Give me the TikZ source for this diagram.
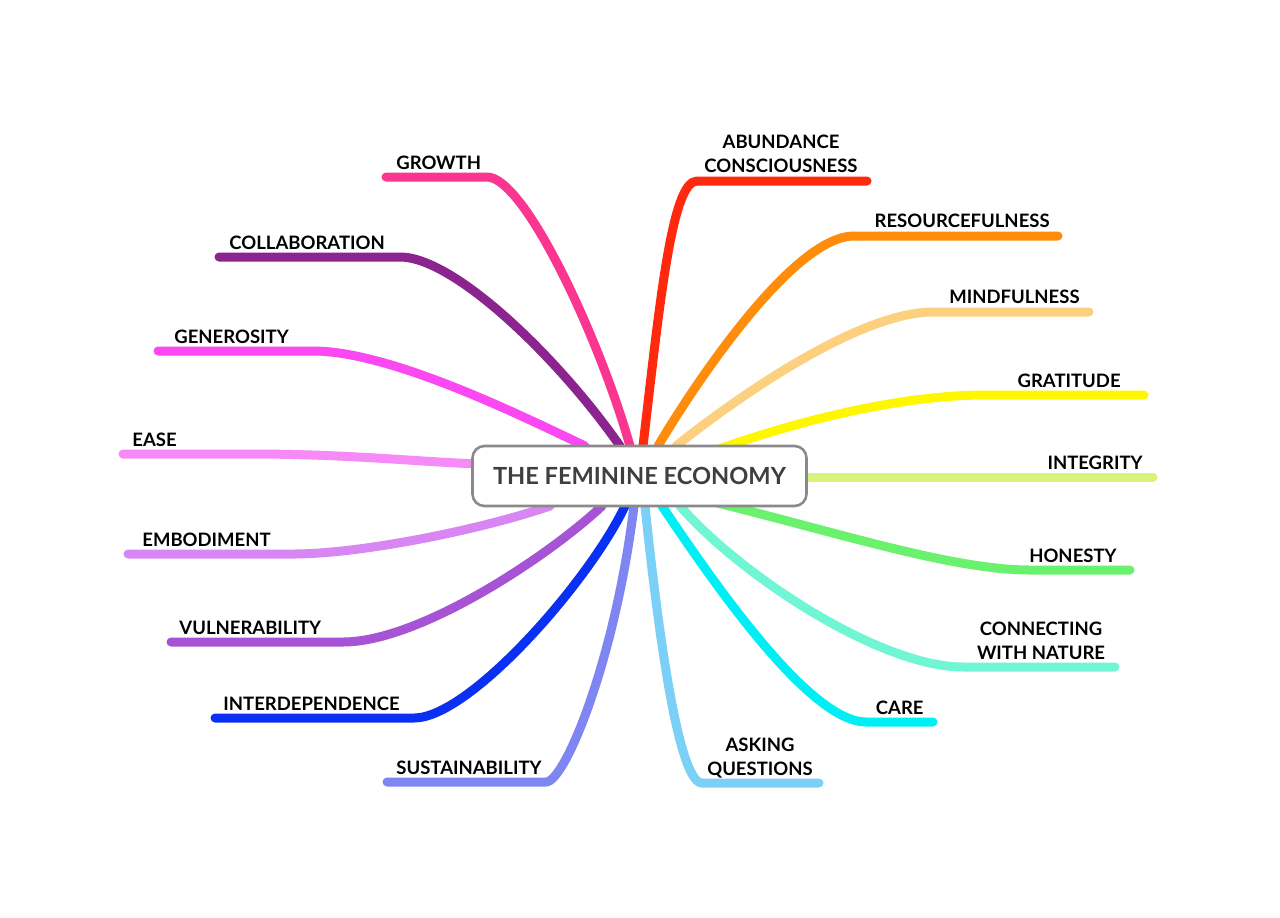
\documentclass[tikz,border=0pt]{standalone}
\usepackage{fontspec}
\setmainfont{Lato}
\definecolor{cGrowth}{HTML}{FB3690}
\definecolor{cCollab}{HTML}{8C2490}
\definecolor{cGener}{HTML}{FA48F2}
\definecolor{cEase}{HTML}{F68AF6}
\definecolor{cEmbod}{HTML}{D986F5}
\definecolor{cVuln}{HTML}{A653D6}
\definecolor{cInter}{HTML}{0A30F2}
\definecolor{cSust}{HTML}{7F86F2}
\definecolor{cAsk}{HTML}{7AD0F7}
\definecolor{cCare}{HTML}{00EFF5}
\definecolor{cConn}{HTML}{70F5D5}
\definecolor{cHon}{HTML}{6AF26E}
\definecolor{cInteg}{HTML}{D6F57A}
\definecolor{cGrat}{HTML}{FFF700}
\definecolor{cMind}{HTML}{FCD07F}
\definecolor{cRes}{HTML}{FF8C0A}
\definecolor{cAbund}{HTML}{FF2A0D}
\definecolor{boxgray}{HTML}{8A8A8A}
\definecolor{txtgray}{HTML}{3F3F3F}
\begin{document}
\begin{tikzpicture}[x=0.5pt,y=-0.5pt,
  branch/.style={line width=4.5pt,line cap=round,line join=round},
  lbl/.style={inner sep=0pt,font=\fontsize{9.25}{12}\selectfont\bfseries,text=black},
  centerbox/.style={draw=boxgray,line width=1.3pt,fill=white,rounded corners=6pt,
    minimum width=167pt,minimum height=30pt,inner sep=0pt,
    font=\fontsize{11.8}{14}\selectfont\bfseries,text=txtgray}]
\useasboundingbox[fill=white] (0,0) rectangle (1280,917);

% ---- end points
\coordinate (growthE) at (630,446); \coordinate (growthH) at (487,177); \coordinate (growthT) at (386,177);
\coordinate (collE) at (620,446); \coordinate (collH) at (400,257); \coordinate (collT) at (219,257);
\coordinate (genE) at (585,446); \coordinate (genH) at (313,351); \coordinate (genT) at (158,351);
\coordinate (easeE) at (480,464); \coordinate (easeH) at (250,454); \coordinate (easeT) at (123,454);
\coordinate (embE) at (550,506); \coordinate (embH) at (293,554); \coordinate (embT) at (128,554);
\coordinate (vulE) at (602,506); \coordinate (vulH) at (343,642); \coordinate (vulT) at (171,642);
\coordinate (intE) at (625,506); \coordinate (intH) at (414,718); \coordinate (intT) at (215,718);
\coordinate (susE) at (634,506); \coordinate (susH) at (546,782); \coordinate (susT) at (387,782);
\coordinate (askE) at (645,506); \coordinate (askH) at (702,783); \coordinate (askT) at (819,783);
\coordinate (careE) at (662,506); \coordinate (careH) at (866,722); \coordinate (careT) at (933,722);
\coordinate (connE) at (680,506); \coordinate (connH) at (963,667); \coordinate (connT) at (1115,667);
\coordinate (honE) at (705,500); \coordinate (honH) at (1030,570); \coordinate (honT) at (1130,570);
\coordinate (integE) at (800,477); \coordinate (integT) at (1153,477);
\coordinate (gratE) at (700,456); \coordinate (gratH) at (985,395); \coordinate (gratT) at (1144,395);
\coordinate (mindE) at (676,446); \coordinate (mindH) at (933,312); \coordinate (mindT) at (1089,312);
\coordinate (resE) at (658,446); \coordinate (resH) at (854,236); \coordinate (resT) at (1058,236);
\coordinate (abE) at (643,446); \coordinate (abH) at (697,181); \coordinate (abT) at (867,181);

% ---- branches
\draw[branch,cGrowth] (growthE) .. controls (600,340) and (525,177) .. (growthH) -- (growthT);
\draw[branch,cCollab] (collE) .. controls (560,360) and (455,257) .. (collH) -- (collT);
\draw[branch,cGener] (genE) .. controls (520,415) and (390,351) .. (genH) -- (genT);
\draw[branch,cEase] (easeE) .. controls (420,462) and (350,454) .. (easeH) -- (easeT);
\draw[branch,cEmbod] (embE) .. controls (480,530) and (360,554) .. (embH) -- (embT);
\draw[branch,cVuln] (vulE) .. controls (550,555) and (420,642) .. (vulH) -- (vulT);
\draw[branch,cInter] (intE) .. controls (590,580) and (470,718) .. (intH) -- (intT);
\draw[branch,cSust] (susE) .. controls (615,660) and (565,782) .. (susH) -- (susT);
\draw[branch,cAsk] (askE) .. controls (660,650) and (680,783) .. (askH) -- (askT);
\draw[branch,cCare] (careE) .. controls (715,585) and (810,722) .. (careH) -- (careT);
\draw[branch,cConn] (connE) .. controls (740,575) and (880,667) .. (connH) -- (connT);
\draw[branch,cHon] (honE) .. controls (830,530) and (950,570) .. (honH) -- (honT);
\draw[branch,cInteg] (integE) -- (integT);
\draw[branch,cGrat] (gratE) .. controls (790,422) and (900,395) .. (gratH) -- (gratT);
\draw[branch,cMind] (mindE) .. controls (740,395) and (860,312) .. (mindH) -- (mindT);
\draw[branch,cRes] (resE) .. controls (685,400) and (790,236) .. (resH) -- (resT);
\draw[branch,cAbund] (abE) .. controls (660,300) and (672,181) .. (abH) -- (abT);

% ---- centre
\node[centerbox] (econ) at (639.5,476) {THE FEMININE ECONOMY};

% ---- labels
\node[lbl,anchor=base west] (growthL) at (396,169) {GROWTH};
\node[lbl,anchor=base west] (collL) at (229,249) {COLLABORATION};
\node[lbl,anchor=base west] (genL) at (174,343) {GENEROSITY};
\node[lbl,anchor=base west] (easeL) at (132,446) {EASE};
\node[lbl,anchor=base west] (embL) at (142,546) {EMBODIMENT};
\node[lbl,anchor=base west] (vulL) at (179,634) {VULNERABILITY};
\node[lbl,anchor=base west] (intL) at (223,710) {INTERDEPENDENCE};
\node[lbl,anchor=base west] (susL) at (396,774) {SUSTAINABILITY};
\node[lbl,anchor=base] (askL1) at (760,751) {ASKING};
\node[lbl,anchor=base] (askL2) at (760,775) {QUESTIONS};
\node[lbl,anchor=base east] (careL) at (924,714) {CARE};
\node[lbl,anchor=base] (connL1) at (1041,635) {CONNECTING};
\node[lbl,anchor=base] (connL2) at (1041,659) {WITH NATURE};
\node[lbl,anchor=base east] (honL) at (1117,562) {HONESTY};
\node[lbl,anchor=base east] (integL) at (1143,469) {INTEGRITY};
\node[lbl,anchor=base east] (gratL) at (1121,387) {GRATITUDE};
\node[lbl,anchor=base east] (mindL) at (1080,303) {MINDFULNESS};
\node[lbl,anchor=base east] (resL) at (1050,227) {RESOURCEFULNESS};
\node[lbl,anchor=base] (abL1) at (781,148) {ABUNDANCE};
\node[lbl,anchor=base] (abL2) at (781,172) {CONSCIOUSNESS};
\end{tikzpicture}
\end{document}
